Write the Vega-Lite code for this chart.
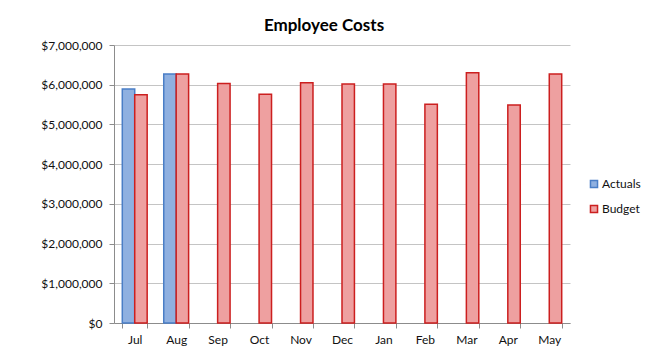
{
  "$schema": "https://vega.github.io/schema/vega-lite/v6.json",
  "width": 456,
  "height": 278,
  "autosize": {"type": "none"},
  "padding": {"left": 114, "top": 45, "right": 78, "bottom": 34},
  "background": "white",
  "title": {
    "text": "Employee Costs",
    "font": "Lato",
    "fontSize": 17,
    "fontWeight": "bold",
    "color": "#000000",
    "anchor": "middle",
    "dx": -18,
    "dy": 23,
    "offset": 14,
    "baseline": "alphabetic"
  },
  "data": {
    "values": [
      {"month": "Jul", "series": "Actuals", "value": 5890000},
      {"month": "Jul", "series": "Budget", "value": 5750000},
      {"month": "Aug", "series": "Actuals", "value": 6270000},
      {"month": "Aug", "series": "Budget", "value": 6270000},
      {"month": "Sep", "series": "Budget", "value": 6030000},
      {"month": "Oct", "series": "Budget", "value": 5760000},
      {"month": "Nov", "series": "Budget", "value": 6050000},
      {"month": "Dec", "series": "Budget", "value": 6020000},
      {"month": "Jan", "series": "Budget", "value": 6020000},
      {"month": "Feb", "series": "Budget", "value": 5510000},
      {"month": "Mar", "series": "Budget", "value": 6300000},
      {"month": "Apr", "series": "Budget", "value": 5490000},
      {"month": "May", "series": "Budget", "value": 6270000}
    ]
  },
  "mark": {"type": "bar", "strokeWidth": 1.5},
  "encoding": {
    "x": {
      "field": "month",
      "type": "nominal",
      "sort": ["Jul", "Aug", "Sep", "Oct", "Nov", "Dec", "Jan", "Feb", "Mar", "Apr", "May"],
      "scale": {"paddingInner": 0.4, "paddingOuter": 0.2},
      "axis": {
        "title": null,
        "labelAngle": 0,
        "tickBand": "extent",
        "domainColor": "#8c8c8c",
        "tickColor": "#8c8c8c",
        "tickSize": 5,
        "labelFont": "Lato",
        "labelFontSize": 12,
        "labelColor": "#111111",
        "labelPadding": 6
      }
    },
    "xOffset": {
      "field": "series",
      "type": "nominal",
      "scale": {"domain": ["Actuals", "Budget"], "paddingInner": 0, "paddingOuter": 0}
    },
    "y": {
      "field": "value",
      "type": "quantitative",
      "scale": {"domain": [0, 7000000]},
      "axis": {
        "title": null,
        "values": [0, 1000000, 2000000, 3000000, 4000000, 5000000, 6000000, 7000000],
        "format": "$,.0f",
        "grid": true,
        "gridColor": "#c4c4c4",
        "gridWidth": 1,
        "domainColor": "#8c8c8c",
        "tickColor": "#8c8c8c",
        "tickSize": 5,
        "labelPadding": 7,
        "labelFont": "Lato",
        "labelFontSize": 12,
        "labelColor": "#111111"
      }
    },
    "fill": {
      "field": "series",
      "type": "nominal",
      "scale": {"domain": ["Actuals", "Budget"], "range": ["#8fb0e0", "#eea0a0"]},
      "legend": {
        "title": null,
        "orient": "none",
        "legendX": 474,
        "legendY": 133,
        "symbolType": "square",
        "symbolSize": 50,
        "symbolStrokeWidth": 1.5,
        "labelFont": "Lato",
        "labelFontSize": 12,
        "labelColor": "#111111",
        "rowPadding": 11,
        "labelOffset": 2
      }
    },
    "stroke": {
      "field": "series",
      "type": "nominal",
      "scale": {"domain": ["Actuals", "Budget"], "range": ["#4a7ec6", "#cc1f1f"]},
      "legend": null
    }
  },
  "config": {
    "view": {"stroke": null},
    "axis": {"domainWidth": 1}
  }
}
